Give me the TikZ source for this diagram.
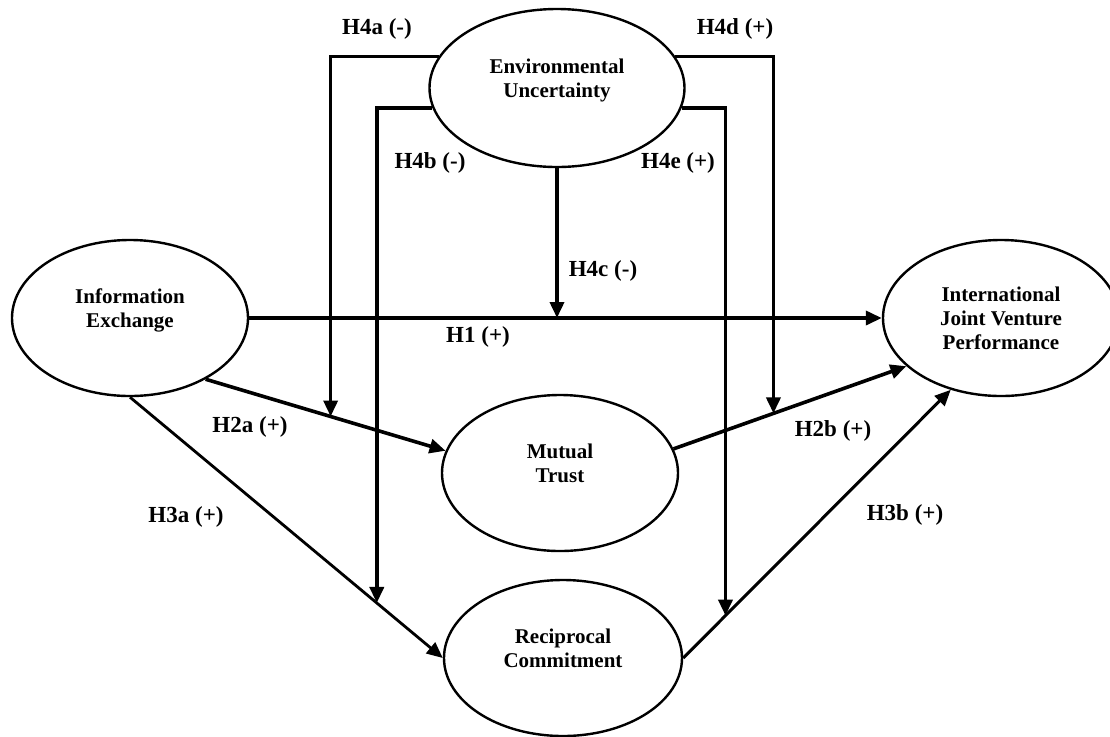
\documentclass[tikz,border=0pt]{standalone}
\usepackage{fontspec}
\setmainfont{Liberation Serif}
\usepackage{tikz}
\usetikzlibrary{shapes,arrows.meta,calc}
\tikzset{construct/.style={ellipse,draw,line width=1.2pt,inner sep=0pt,minimum width=118pt,minimum height=78pt,align=center,font=\fontsize{10.5}{12}\selectfont\bfseries},
path/.style={line width=1.8pt,-{Triangle[length=8pt,width=7pt]}},
hyp/.style={font=\fontsize{11.5}{13}\selectfont\bfseries}}

\begin{document}
\begin{tikzpicture}[x=0.5pt,y=-0.5pt]
\useasboundingbox (0,0) rectangle (1110,736);
\node[construct,minimum width=127.5pt,minimum height=79pt,text depth=10pt] (env) at (557,88) {Environmental\\Uncertainty};
\node[construct,text depth=10pt] (info) at (130,318) {Information\\Exchange};
\node[construct] (ijv) at (1001,318) {International\\Joint Venture\\Performance};
\node[construct,text depth=10pt] (trust) at (560,473) {Mutual\\Trust};
\node[construct,minimum width=119pt,text depth=10pt] (commit) at (563,658) {Reciprocal\\Commitment};
\draw[path] (info.east)--(ijv.west);
\draw[path] (info.-39)--(trust.169);
\draw[path,line width=1.4pt] (info.south)--(commit.west);
\draw[path] (trust.12)--(ijv.207);
\draw[path,line width=1.5pt] (commit.east)--(ijv.235);
\coordinate (onh2a) at ($(info.-39)!0.521!(trust.169)$);
\coordinate (onh3a) at ($(info.south)!0.789!(commit.west)$);
\coordinate (onh2b) at ($(trust.12)!0.429!(ijv.207)$);
\coordinate (onh3b) at ($(commit.east)!0.158!(ijv.235)$);
\draw[path] (env.south)--(env.south|-info.east);
\draw[path] (env.165)-|(onh2a);
\draw[path] (env.189)-|(onh3a);
\draw[path] (env.15)-|(onh2b);
\draw[path] (env.-9)-|(onh3b);
\node[hyp] (h1) at (478,337) {H1 (+)};
\node[hyp] (h2a) at (250,427) {H2a (+)};
\node[hyp] (h2b) at (833,431) {H2b (+)};
\node[hyp] (h3a) at (186,517) {H3a (+)};
\node[hyp] (h3b) at (905,515) {H3b (+)};
\node[hyp] (h4a) at (377,29) {H4a (-)};
\node[hyp] (h4b) at (430,163) {H4b (-)};
\node[hyp] (h4c) at (603,271) {H4c (-)};
\node[hyp] (h4d) at (735,29) {H4d (+)};
\node[hyp] (h4e) at (678,163) {H4e (+)};
\end{tikzpicture}
\end{document}
